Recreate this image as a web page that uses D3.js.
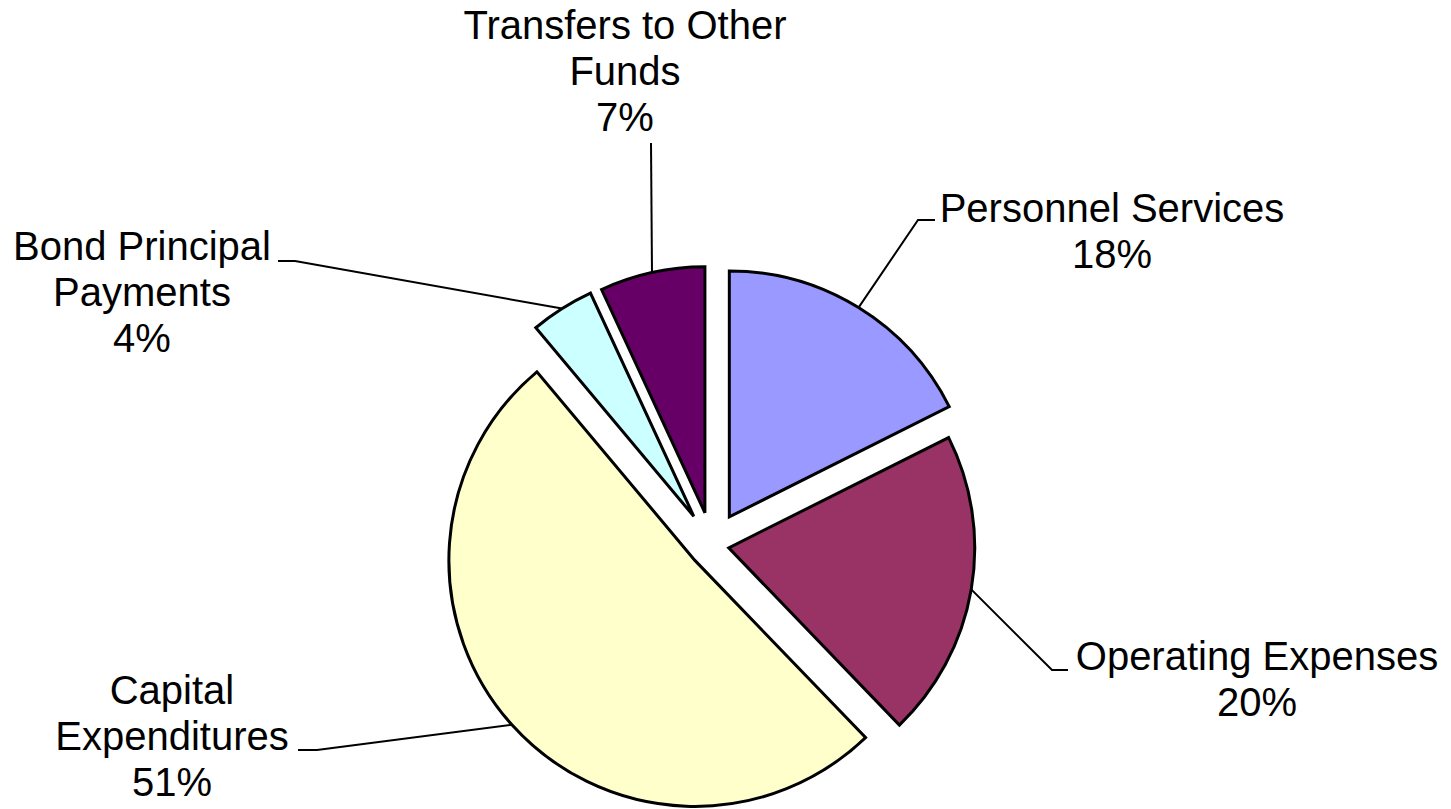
<!DOCTYPE html>
<html>
<head>
<meta charset="utf-8">
<script src="https://cdn.jsdelivr.net/npm/d3@7"></script>
<style>
  body { margin: 0; background: #fff; }
  text { font-family: "Liberation Sans", Arial, sans-serif; }
</style>
</head>
<body>
<div id="chart"></div>
<script>
// data (shares in percent)
var categories = ["Personnel Services", "Operating Expenses", "Capital Expenditures",
                  "Bond Principal Payments", "Transfers to Other Funds"];
var shares = [17.6, 20.2, 51.1, 4.2, 6.9];
var colors = ["#9999ff", "#993366", "#ffffcc", "#ccffff", "#660066"];

// layout (pixels)
var width = 1451, height = 809;
var cx = 712, cy = 545, radius = 246;
var explode = [33, 17, 23, 34, 33];
// label: center x, first baseline, wrap width, leader bend + end
var labelLayout = [
    {x: 1112, y: 222, wrap: 380, leader: [[918, 220], [935, 220]]},
    {x: 1257, y: 670, wrap: 400, leader: [[1052, 670], [1068, 670]]},
    {x: 172, y: 704, wrap: 250, leader: [[317, 750], [298, 750]]},
    {x: 142, y: 260, wrap: 275, leader: [[295, 261], [278, 261]]},
    {x: 625, y: 39, wrap: 340, leader: [[651, 143]]}
];
var lineHeight = 46;

var svg = d3.select('#chart').append('svg')
    .attr("width", width)
    .attr("height", height)
    .append("g")
    .attr("transform", "translate(" + cx + "," + cy + ")");

var pie = d3.pie().sort(null).value(function(d) { return d; });
var arc = d3.arc().innerRadius(0).outerRadius(radius);
var arcs = pie(shares);
var total = d3.sum(shares);

function offset(d, i) {
    var mid = (d.startAngle + d.endAngle) / 2;
    return [explode[i] * Math.sin(mid), -explode[i] * Math.cos(mid)];
}

// slices
svg.selectAll('path.slice')
    .data(arcs)
    .enter().append('path')
    .attr('class', 'slice')
    .attr('d', arc)
    .attr('transform', function(d, i) {
        var o = offset(d, i);
        return "translate(" + o[0] + "," + o[1] + ")";
    })
    .attr('fill', function(d, i) { return colors[i]; })
    .attr('stroke', '#000')
    .attr('stroke-width', 3)
    .attr('stroke-linejoin', 'miter');

// leader lines from the arc midpoint
svg.selectAll('path.leader')
    .data(arcs)
    .enter().append('path')
    .attr('class', 'leader')
    .attr('d', function(d, i) {
        var o = offset(d, i);
        var mid = (d.startAngle + d.endAngle) / 2;
        var pts = [[o[0] + radius * Math.sin(mid), o[1] - radius * Math.cos(mid)]];
        labelLayout[i].leader.forEach(function(p) { pts.push([p[0] - cx, p[1] - cy]); });
        return d3.line()(pts);
    })
    .attr('fill', 'none')
    .attr('stroke', '#000')
    .attr('stroke-width', 2);

// labels
var pct = d3.format(".0%");
var labels = d3.select('svg').append('g');
categories.forEach(function(name, i) {
    var lay = labelLayout[i];
    var t = labels.append('text')
        .attr('x', lay.x)
        .attr('y', lay.y)
        .attr('text-anchor', 'middle')
        .attr('font-size', '40px')
        .attr('fill', '#000');
    // greedy wrap
    var words = name.split(' '), lines = [], cur = '';
    var probe = t.append('tspan');
    words.forEach(function(w) {
        var test = cur ? cur + ' ' + w : w;
        probe.text(test);
        if (cur && probe.node().getComputedTextLength() > lay.wrap) {
            lines.push(cur);
            cur = w;
        } else {
            cur = test;
        }
    });
    lines.push(cur);
    probe.remove();
    lines.push(pct(shares[i] / total));
    lines.forEach(function(l, k) {
        t.append('tspan')
            .attr('x', lay.x)
            .attr('y', lay.y + k * lineHeight)
            .text(l);
    });
});
</script>
</body>
</html>
